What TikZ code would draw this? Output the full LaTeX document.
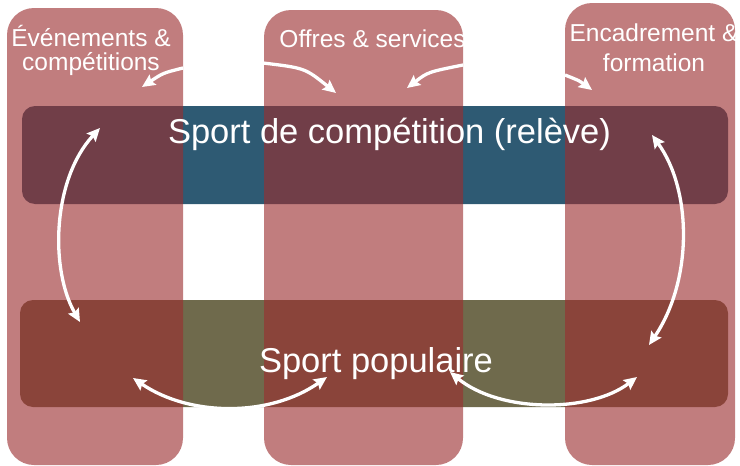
\documentclass[tikz,border=0pt]{standalone}
\usepackage{fontspec}
\setmainfont{Liberation Sans}
\usetikzlibrary{arrows.meta}
\definecolor{colred}{RGB}{155,45,47}
\definecolor{barblue}{RGB}{46,90,115}
\definecolor{barolive}{RGB}{111,106,76}
\begin{document}
\begin{tikzpicture}[x=1pt,y=-1pt,
  barbox/.style={draw=none, rounded corners=13pt, inner sep=0pt},
  colbox/.style={draw=none, fill=colred, fill opacity=0.62, rounded corners=27pt, inner sep=0pt},
  bigtxt/.style={text=white, font=\fontsize{34.5}{40}\selectfont, inner sep=0pt, anchor=base},
  coltxt/.style={text=white, font=\fontsize{24.5}{24}\selectfont, inner sep=0pt, anchor=base, align=center},
  flow/.style={draw=white, line width=3.3pt, -{Stealth[length=13pt,width=12pt,inset=2pt]}},
  flow2/.style={draw=white, line width=3.3pt, {Stealth[length=13pt,width=12pt,inset=2pt]}-{Stealth[length=13pt,width=12pt,inset=2pt]}}
]
\useasboundingbox (0,0) rectangle (740,466);
% horizontal bars
\node[barbox, fill=barblue, minimum width=706pt, minimum height=98pt] (comp) at (375,155) {};
\node[barbox, fill=barolive, minimum width=708pt, minimum height=107pt] (pop) at (374,353.5) {};
% vertical columns
\node[colbox, minimum width=176pt, minimum height=457pt] (evt) at (95,236.5) {};
\node[colbox, minimum width=199pt, minimum height=455pt] (off) at (363.5,237.5) {};
\node[colbox, minimum width=170pt, minimum height=462pt] (enc) at (650,234) {};
% labels
\node[bigtxt] (tcomp) at (389.5,143) {Sport de compétition (relève)};
\node[bigtxt] (tpop) at (376,372) {Sport populaire};
\node[coltxt] (tevt) at (91,70) {Événements \&\\compétitions};
\node[coltxt] (toff) at (372.5,47) {Offres \& services};
\node[coltxt, font=\fontsize{24.5}{30}\selectfont] (tenc) at (654,71) {Encadrement \&\\formation};
% arrow end points
\coordinate (a1s) at (183,68);  \coordinate (a1e) at (142,87);
\coordinate (a2s) at (263,63);  \coordinate (a2e) at (336,93);
\coordinate (a3s) at (463,65);  \coordinate (a3e) at (407,88);
\coordinate (a4s) at (565,75);  \coordinate (a4e) at (592,90);
\coordinate (l1) at (100,128);  \coordinate (l2) at (80,322);
\coordinate (r1) at (652,135);  \coordinate (r2) at (649,345);
\coordinate (b1) at (133,378);  \coordinate (b2) at (327,377);
\coordinate (c1) at (450,372);  \coordinate (c2) at (637,377);
% arrows
\draw[flow] (a1s) .. controls (163,73) .. (a1e);
\draw[flow] (a2s) .. controls (305,68) .. (a2e);
\draw[flow] (a3s) .. controls (428,72) .. (a3e);
\draw[flow] (a4s) .. controls (580,81) .. (a4e);
\draw[flow2] (l1) .. controls (52,180) and (50,270) .. (l2);
\draw[flow2] (r1) .. controls (692,190) and (693,280) .. (r2);
\draw[flow2] (b1) .. controls (190,417) and (270,417) .. (b2);
\draw[flow2] (c1) .. controls (500,413) and (590,413) .. (c2);
\end{tikzpicture}
\end{document}
